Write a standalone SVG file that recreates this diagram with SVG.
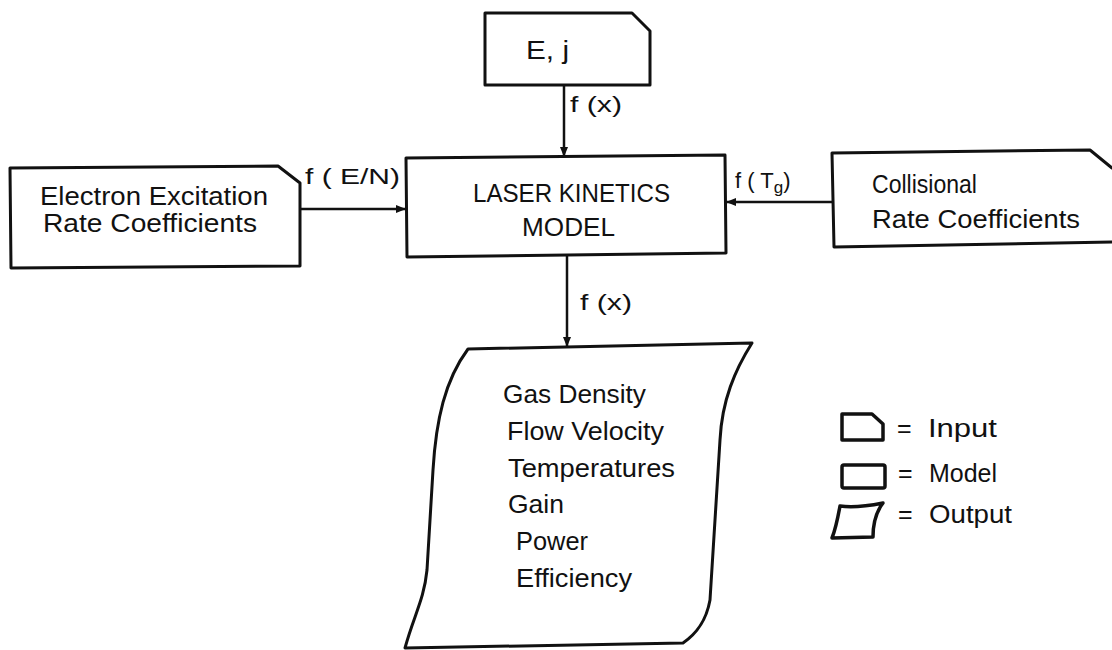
<svg xmlns="http://www.w3.org/2000/svg" width="1112" height="650" viewBox="0 0 1112 650">
<defs>
<marker id="ah" viewBox="0 0 10 10" refX="10" refY="5" markerWidth="10" markerHeight="10" markerUnits="userSpaceOnUse" orient="auto">
<path d="M0,1 L10,5 L0,9 Z" fill="#111"/>
</marker>
</defs>
<style>
.box{fill:#fff;stroke:#111;stroke-width:3;stroke-linejoin:round}
.leg{fill:#fff;stroke:#111;stroke-width:3.5;stroke-linejoin:round}
.t{font-family:"Liberation Sans","DejaVu Sans",sans-serif;font-size:25px;fill:#111}
.m{font-size:25px}
.lbl{font-family:"Liberation Sans","DejaVu Sans",sans-serif;font-size:22px;fill:#111}
.ln{stroke:#111;stroke-width:2.5;fill:none}
</style>
<rect width="1112" height="650" fill="#fff"/>
<g id="connectors">
<line class="ln" x1="564" y1="85" x2="564" y2="157" marker-end="url(#ah)"/>
<line class="ln" x1="300" y1="209" x2="406" y2="209" marker-end="url(#ah)"/>
<line class="ln" x1="832" y1="202" x2="726" y2="202" marker-end="url(#ah)"/>
<line class="ln" x1="567" y1="256" x2="567" y2="347" marker-end="url(#ah)"/>
<text class="lbl" x="570" y="112" textLength="52" lengthAdjust="spacingAndGlyphs">f (x)</text>
<text class="lbl" x="305" y="184" textLength="95" lengthAdjust="spacingAndGlyphs">f ( E/N)</text>
<text class="lbl" x="735" y="188">f ( T<tspan font-size="17" dy="5">g</tspan><tspan dy="-5">)</tspan></text>
<text class="lbl" x="580" y="310" textLength="52" lengthAdjust="spacingAndGlyphs">f (x)</text>
</g>
<g id="node-ej">
<path class="box" d="M485,13 L632,13 L650,31 L650,85 L485,85 Z"/>
<text class="t" x="526" y="59" textLength="43" lengthAdjust="spacingAndGlyphs">E, j</text>
</g>
<g id="node-model">
<path class="box" d="M406,158 L725,155 L726,253 L407,257 Z"/>
<text class="t m" x="473" y="202" textLength="197" lengthAdjust="spacingAndGlyphs">LASER KINETICS</text>
<text class="t m" x="522" y="236" textLength="93" lengthAdjust="spacingAndGlyphs">MODEL</text>
</g>
<g id="node-electron">
<path class="box" d="M10,168 L278,166 L300,183 L300,266 L11,268 Z"/>
<text class="t" x="40" y="205" textLength="228" lengthAdjust="spacingAndGlyphs">Electron Excitation</text>
<text class="t" x="43" y="232" textLength="214" lengthAdjust="spacingAndGlyphs">Rate Coefficients</text>
</g>
<g id="node-collisional">
<path class="box" d="M832,153 L1090,150 L1112,168 L1116,168 L1116,242 L834,247 Z"/>
<text class="t" x="872" y="193" textLength="105" lengthAdjust="spacingAndGlyphs">Collisional</text>
<text class="t" x="872" y="228" textLength="208" lengthAdjust="spacingAndGlyphs">Rate Coefficients</text>
</g>
<g id="node-output">
<path class="box" d="M468,349 L752,343 C735,370 722,400 720,440 L710,600 C706,622 696,634 683,643 L405,648 C414,615 424,600 427,570 L433,470 C436,420 445,380 468,349 Z"/>
<text class="t" x="503" y="403" textLength="143" lengthAdjust="spacingAndGlyphs">Gas Density</text>
<text class="t" x="507" y="440" textLength="157" lengthAdjust="spacingAndGlyphs">Flow Velocity</text>
<text class="t" x="508" y="477" textLength="167" lengthAdjust="spacingAndGlyphs">Temperatures</text>
<text class="t" x="508" y="513" textLength="56" lengthAdjust="spacingAndGlyphs">Gain</text>
<text class="t" x="516" y="550" textLength="72" lengthAdjust="spacingAndGlyphs">Power</text>
<text class="t" x="516" y="587" textLength="116" lengthAdjust="spacingAndGlyphs">Efficiency</text>
</g>
<g id="legend">
<path class="leg" d="M842,414 L872,414 L883,424 L883,440 L842,440 Z"/>
<rect class="leg" x="842" y="465" width="43" height="23" rx="2"/>
<path class="leg" d="M840,506 C852,508 868,506 883,503 C876,512 873,522 873,537 L832,538 C836,528 838,517 840,506 Z"/>
<text class="t" x="897" y="437">= <tspan x="928" textLength="69" lengthAdjust="spacingAndGlyphs">Input</tspan></text>
<text class="t" x="898" y="482">= <tspan x="929" textLength="68" lengthAdjust="spacingAndGlyphs">Model</tspan></text>
<text class="t" x="898" y="523">= <tspan x="929" textLength="83" lengthAdjust="spacingAndGlyphs">Output</tspan></text>
</g>
</svg>
